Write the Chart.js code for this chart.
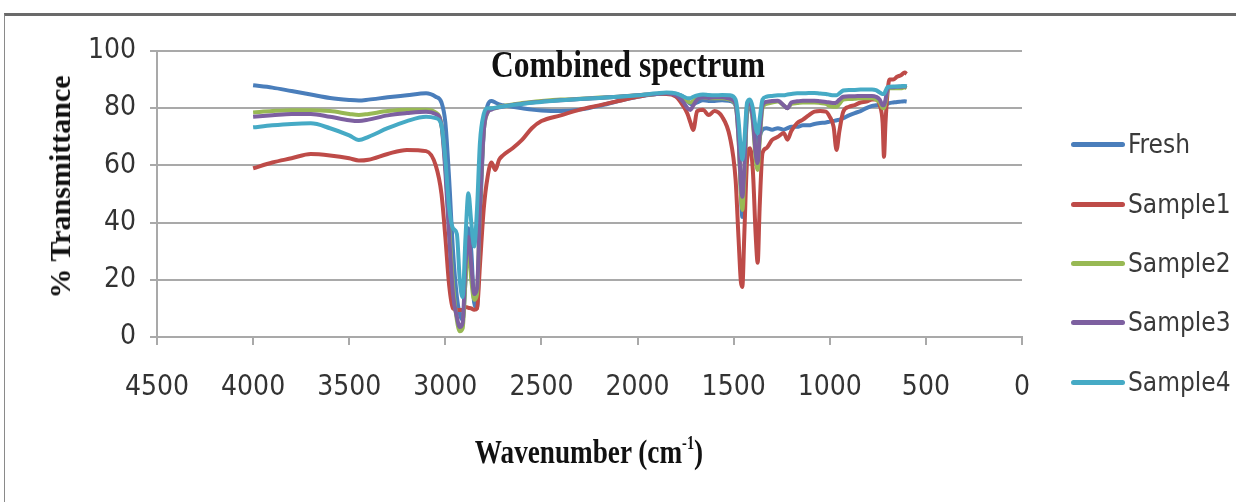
<!DOCTYPE html>
<html>
<head>
<meta charset="utf-8">
<script src="https://cdn.jsdelivr.net/npm/chart.js@4"></script>
<style>
  html, body { margin:0; padding:0; background:#fff; }
  #wrap { position:relative; width:1236px; height:502px; overflow:hidden; background:#fff; }
  #frame { position:absolute; left:4px; top:13px; width:1240px; height:500px;
           border-top:3px solid #6a6a6a; border-left:1px solid #8a8a8a; box-sizing:border-box; }
  canvas { position:absolute; left:0; top:0; }
  .serif { font-family:"Liberation Serif","Times New Roman",serif; font-weight:bold; color:#111; position:absolute; white-space:nowrap; }
  #title { font-size:38px; left:628px; top:64px; transform:translate(-50%,-50%) scaleX(0.83); }
  #ytitle { font-size:30px; left:60px; top:187px; transform:translate(-50%,-50%) rotate(-90deg); }
  #xtitle { font-size:34px; left:589px; top:452px; transform:translate(-50%,-50%) scaleX(0.8); }
  #xtitle sup { font-size:18px; vertical-align:14px; }
  .leg { position:absolute; left:1071px; height:0; font-family:"Liberation Sans Narrow","DejaVu Sans Condensed","Liberation Sans",sans-serif; font-size:26px; color:#3a3a3a; white-space:nowrap; }
  .leg span.ln { position:absolute; left:0; top:-2.5px; width:54px; height:5px; border-radius:3px; }
  .leg span.tx { position:absolute; left:57px; top:-17px; line-height:34px; }
</style>
</head>
<body>
<div id="wrap">
  <div id="frame"></div>
  <canvas id="c" width="1236" height="502"></canvas>
  <div id="title" class="serif">Combined spectrum</div>
  <div id="ytitle" class="serif">% Transmittance</div>
  <div id="xtitle" class="serif">Wavenumber (cm<sup>-1</sup>)</div>
  <div id="legend"></div>
</div>
<script>
const seriesNames = ["Fresh", "Sample1", "Sample2", "Sample3", "Sample4"];
const seriesColors = ["#4a7ebb", "#be4b48", "#98b954", "#7d60a0", "#46aac5"];
const xTickValues = [4500, 4000, 3500, 3000, 2500, 2000, 1500, 1000, 500, 0];
const yTickValues = [0, 20, 40, 60, 80, 100];

const wavenumbers = [4000,3900,3800,3700,3600,3500,3450,3400,3300,3200,3100,3050,3020,3000,2980,2960,2940,2925,2910,2895,2880,2865,2850,2835,2820,2800,2780,2760,2740,2720,2700,2650,2600,2550,2500,2400,2300,2200,2100,2000,1900,1850,1800,1760,1740,1725,1710,1690,1660,1630,1600,1560,1520,1490,1475,1462,1455,1445,1430,1415,1400,1385,1375,1365,1350,1330,1300,1270,1240,1220,1200,1170,1140,1110,1080,1050,1020,1000,980,965,950,930,900,870,840,810,780,760,740,725,718,710,700,690,670,650,630,610,600];

const fresh = [88.0,87.2,86.0,84.8,83.6,82.9,82.7,83.0,83.8,84.5,85.2,84.0,82.0,75,55,30,14,8,6,20,38,30,12,10,40,72,81,82.5,82,81.3,81,80.5,80,79.5,79.2,79,79.5,80.8,82.5,84,85,85.3,85,84,82.5,81.5,81.5,82,82.8,82.5,82.5,82.8,82.5,81,72,50,42,55,78,80,78,70,66,70,72.5,73,72.5,73,72.5,73,73.5,73.5,74,74,74.5,74.8,75,75.3,75.5,75.8,76,76.5,77.5,78.3,79,80,80.8,81,81.2,81,80.5,80.8,81.5,81.8,82,82.2,82.3,82.4,82.3];

const sample1 = [59.0,61.0,62.5,64.0,63.5,62.5,61.7,62.0,64.0,65.4,65.0,60,50,35,18,10,9.5,9.4,9.5,10.5,10.2,10,9.5,10,25,45,56,61,58.4,62,63.5,66,69,73,75.5,77.5,79.5,81,82.5,84,85,85,84,80.5,78,75,72.4,79,79.5,77.6,79,77,70,55,35,19,17.5,35,62,66,58,35,26,45,64.3,66,68.9,70,71.3,69,72,74.8,76,77.5,78.8,79,78.8,77,73.5,65.4,72,78.8,80.5,81.1,82,82.3,83,83,81,74.8,63,75,85,90,90,91,91.5,92.5,92];

const sample2 = [78.5,79,79.3,79.3,79,78,77.6,78,79,79.5,79.5,78.5,74,60,38,18,6,2,3,20,32,20,13,15,45,72,78.5,80,80,80.5,80.8,81.3,81.8,82.2,82.5,83,83.3,83.7,84,84.5,85,85.3,84.8,83.5,82.5,82,82.5,83.5,83.8,83.5,83.5,83.5,83,81,70,50,44.4,55,80,82,75,62,58.4,68,80,81.5,82,82.3,81,80,81.5,81.8,82,82,82,81.8,81.5,80.8,80.5,80.5,81.5,83,83.2,83.3,83.5,83.5,83.5,83,82,80,80,82,86,87,87,87,87,87.3,87];

const sample3 = [77,77.5,78,78,77,75.8,75.5,76,77.5,78.3,78.8,78,74,58,35,15,7,3.5,5,25,35,25,15,17,45,72,78.5,79.5,80,80.3,80.6,81.1,81.6,82,82.3,82.8,83.2,83.6,84,84.5,85,85.2,84.5,82,80,79.4,81,83,83.8,83.6,83.8,83.8,83.3,81.5,70,53,49,58,81,82.5,76,64,60.8,70,81,82.2,82.5,82.6,81,80,82,82.4,82.6,82.6,82.6,82.4,82.2,82,81.8,82,83,84,84.2,84.2,84.3,84.3,84.3,84,83,81,81,83,86.5,87.3,87.3,87.5,87.5,87.6,87.5];

const sample4 = [73.3,74,74.5,74.7,73,70.5,68.9,70,73,75.5,77,76.5,74,62,45,38,36,20,14,35,50.3,40,31.6,45,68,78,80,80,80.2,80.4,80.6,81.1,81.5,81.9,82.2,82.8,83.2,83.6,84,84.5,85.2,85.5,85.2,84,83.5,83.5,84,84.5,84.8,84.6,84.5,84.6,84.5,83,76,65,62,68,82,83,80,73,71.3,76,83,84,84.3,84.5,84.5,84.8,85,85.2,85.2,85.3,85.3,85.1,85,84.7,84.5,84.5,85.2,86.2,86.4,86.4,86.5,86.5,86.5,86.3,85.5,85,85,86,87.3,87.5,87.6,87.6,87.7,87.8,87.6];

const seriesValues = [fresh, sample1, sample2, sample3, sample4];

const tickFont = { family: "'Liberation Sans Narrow','DejaVu Sans Condensed','Liberation Sans',sans-serif", size: 28 };
const gridGray = "#a9a9a9";

const datasets = seriesNames.map((name, i) => ({
  label: name,
  data: wavenumbers.map((w, k) => ({ x: w, y: seriesValues[i][k] })),
  borderColor: seriesColors[i],
  backgroundColor: seriesColors[i],
  borderWidth: 4,
  pointRadius: 0,
  tension: 0.3,
  cubicInterpolationMode: 'monotone',
  order: seriesNames.length - i,
  fill: false
}));

new Chart(document.getElementById('c'), {
  type: 'line',
  data: { datasets },
  options: {
    responsive: false,
    animation: false,
    events: [],
    layout: { padding: { left: 0, top: 51, right: 214, bottom: 85 } },
    plugins: { legend: { display: false }, tooltip: { enabled: false }, title: { display: false } },
    scales: {
      x: {
        type: 'linear',
        reverse: true,
        min: 0, max: 4500,
        afterBuildTicks: s => { s.ticks = xTickValues.map(v => ({ value: v })); },
        afterFit: s => { s.height = 80; },
        ticks: { font: tickFont, color: '#333', padding: 26, maxRotation: 0, autoSkip: false, callback: v => String(v) },
        grid: { drawOnChartArea: false, drawTicks: true, tickLength: 8, color: gridGray, lineWidth: 2 },
        border: { display: true, color: gridGray, width: 2 }
      },
      y: {
        min: 0, max: 100,
        afterBuildTicks: s => { s.ticks = yTickValues.map(v => ({ value: v })); },
        afterFit: s => { s.width = 157; },
        ticks: { font: tickFont, color: '#333', padding: 14, callback: v => String(v) },
        grid: { drawTicks: true, tickLength: 7, color: gridGray, lineWidth: 2 },
        border: { display: true, color: gridGray, width: 2 }
      }
    }
  }
});

const legendTops = [144, 204, 263, 322, 382];
const legendEl = document.getElementById('legend');
seriesNames.forEach((name, i) => {
  const d = document.createElement('div');
  d.className = 'leg';
  d.style.top = legendTops[i] + 'px';
  d.innerHTML = '<span class="ln" style="background:' + seriesColors[i] + '"></span><span class="tx">' + name + '</span>';
  legendEl.appendChild(d);
});
</script>
</body>
</html>
